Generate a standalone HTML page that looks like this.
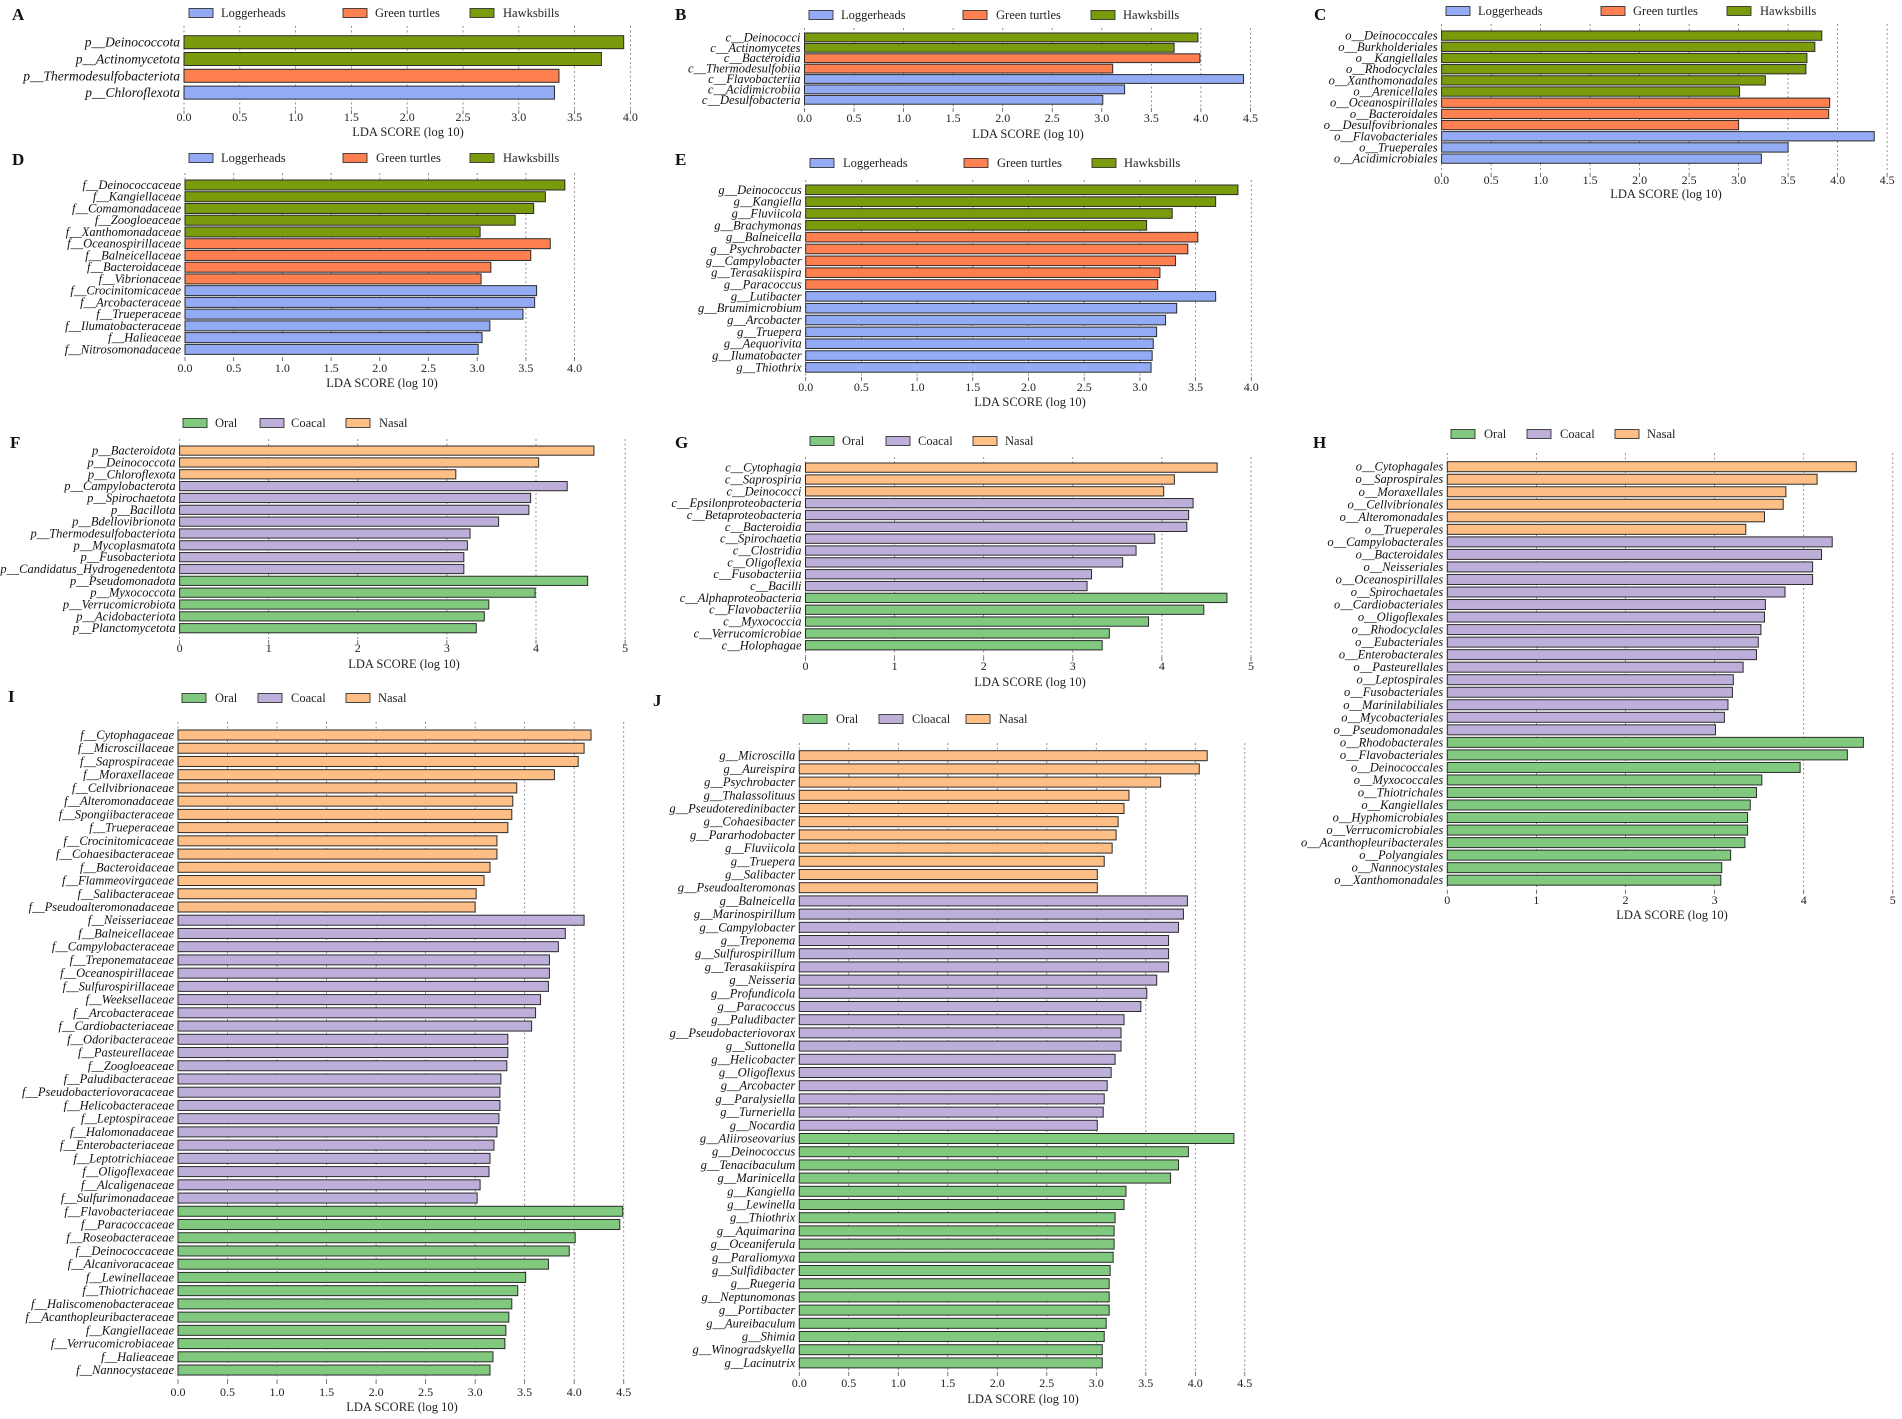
<!DOCTYPE html>
<html><head><meta charset="utf-8"><style>
html,body{margin:0;padding:0;background:#fff;}
svg{display:block;font-family:"Liberation Serif",serif;}
</style></head><body>
<svg id="chart" xmlns="http://www.w3.org/2000/svg" width="1902" height="1419" viewBox="0 0 1902 1419">
<rect x="0" y="0" width="1902" height="1419" fill="#fff"/>
</svg>
<script>
// ---------- data ----------
const catsA = ['p__Deinococcota','p__Actinomycetota','p__Thermodesulfobacteriota','p__Chloroflexota'];
const valsA = [3.94,3.74,3.36,3.32];
const grpA = ['H','H','G','L'];

const catsB = ['c__Deinococci','c__Actinomycetes','c__Bacteroidia','c__Thermodesulfobiia','c__Flavobacteriia','c__Acidimicrobiia','c__Desulfobacteria'];
const valsB = [3.97,3.73,3.99,3.11,4.43,3.23,3.01];
const grpB = ['H','H','G','G','L','L','L'];

const catsC = ['o__Deinococcales','o__Burkholderiales','o__Kangiellales','o__Rhodocyclales','o__Xanthomonadales','o__Arenicellales','o__Oceanospirillales','o__Bacteroidales','o__Desulfovibrionales','o__Flavobacteriales','o__Trueperales','o__Acidimicrobiales'];
const valsC = [3.84,3.77,3.69,3.68,3.27,3.01,3.92,3.91,3.00,4.37,3.50,3.23];
const grpC = ['H','H','H','H','H','H','G','G','G','L','L','L'];

const catsD = ['f__Deinococcaceae','f__Kangiellaceae','f__Comamonadaceae','f__Zoogloeaceae','f__Xanthomonadaceae','f__Oceanospirillaceae','f__Balneicellaceae','f__Bacteroidaceae','f__Vibrionaceae','f__Crocinitomicaceae','f__Arcobacteraceae','f__Trueperaceae','f__Ilumatobacteraceae','f__Halieaceae','f__Nitrosomonadaceae'];
const valsD = [3.90,3.70,3.58,3.39,3.03,3.75,3.55,3.14,3.04,3.61,3.59,3.47,3.13,3.05,3.01];
const grpD = ['H','H','H','H','H','G','G','G','G','L','L','L','L','L','L'];

const catsE = ['g__Deinococcus','g__Kangiella','g__Fluviicola','g__Brachymonas','g__Balneicella','g__Psychrobacter','g__Campylobacter','g__Terasakiispira','g__Paracoccus','g__Lutibacter','g__Brumimicrobium','g__Arcobacter','g__Truepera','g__Aequorivita','g__Ilumatobacter','g__Thiothrix'];
const valsE = [3.88,3.68,3.29,3.06,3.52,3.43,3.32,3.18,3.16,3.68,3.33,3.23,3.15,3.12,3.11,3.10];
const grpE = ['H','H','H','H','G','G','G','G','G','L','L','L','L','L','L','L'];

const catsF = ['p__Bacteroidota','p__Deinococcota','p__Chloroflexota','p__Campylobacterota','p__Spirochaetota','p__Bacillota','p__Bdellovibrionota','p__Thermodesulfobacteriota','p__Mycoplasmatota','p__Fusobacteriota','p__Candidatus_Hydrogenedentota','p__Pseudomonadota','p__Myxococcota','p__Verrucomicrobiota','p__Acidobacteriota','p__Planctomycetota'];
const valsF = [4.65,4.03,3.10,4.35,3.94,3.92,3.58,3.26,3.23,3.19,3.19,4.58,3.99,3.47,3.42,3.33];
const grpF = ['N','N','N','C','C','C','C','C','C','C','C','O','O','O','O','O'];

const catsG = ['c__Cytophagia','c__Saprospiria','c__Deinococci','c__Epsilonproteobacteria','c__Betaproteobacteria','c__Bacteroidia','c__Spirochaetia','c__Clostridia','c__Oligoflexia','c__Fusobacteriia','c__Bacilli','c__Alphaproteobacteria','c__Flavobacteriia','c__Myxococcia','c__Verrucomicrobiae','c__Holophagae'];
const valsG = [4.62,4.14,4.02,4.35,4.30,4.28,3.92,3.71,3.56,3.21,3.16,4.73,4.47,3.85,3.41,3.33];
const grpG = ['N','N','N','C','C','C','C','C','C','C','C','O','O','O','O','O'];

const catsH = ['o__Cytophagales','o__Saprospirales','o__Moraxellales','o__Cellvibrionales','o__Alteromonadales','o__Trueperales','o__Campylobacterales','o__Bacteroidales','o__Neisseriales','o__Oceanospirillales','o__Spirochaetales','o__Cardiobacteriales','o__Oligoflexales','o__Rhodocyclales','o__Eubacteriales','o__Enterobacterales','o__Pasteurellales','o__Leptospirales','o__Fusobacteriales','o__Marinilabiliales','o__Mycobacteriales','o__Pseudomonadales','o__Rhodobacterales','o__Flavobacteriales','o__Deinococcales','o__Myxococcales','o__Thiotrichales','o__Kangiellales','o__Hyphomicrobiales','o__Verrucomicrobiales','o__Acanthopleuribacterales','o__Polyangiales','o__Nannocystales','o__Xanthomonadales'];
const valsH = [4.59,4.15,3.80,3.77,3.56,3.35,4.32,4.20,4.10,4.10,3.79,3.57,3.56,3.52,3.49,3.47,3.32,3.21,3.20,3.15,3.11,3.01,4.67,4.49,3.96,3.53,3.47,3.40,3.37,3.37,3.34,3.18,3.08,3.07];
const grpH = 'NNNNNNCCCCCCCCCCCCCCCCOOOOOOOOOOOO'.split('');

const catsI = ['f__Cytophagaceae','f__Microscillaceae','f__Saprospiraceae','f__Moraxellaceae','f__Cellvibrionaceae','f__Alteromonadaceae','f__Spongiibacteraceae','f__Trueperaceae','f__Crocinitomicaceae','f__Cohaesibacteraceae','f__Bacteroidaceae','f__Flammeovirgaceae','f__Salibacteraceae','f__Pseudoalteromonadaceae','f__Neisseriaceae','f__Balneicellaceae','f__Campylobacteraceae','f__Treponemataceae','f__Oceanospirillaceae','f__Sulfurospirillaceae','f__Weeksellaceae','f__Arcobacteraceae','f__Cardiobacteriaceae','f__Odoribacteraceae','f__Pasteurellaceae','f__Zoogloeaceae','f__Paludibacteraceae','f__Pseudobacteriovoracaceae','f__Helicobacteraceae','f__Leptospiraceae','f__Halomonadaceae','f__Enterobacteriaceae','f__Leptotrichiaceae','f__Oligoflexaceae','f__Alcaligenaceae','f__Sulfurimonadaceae','f__Flavobacteriaceae','f__Paracoccaceae','f__Roseobacteraceae','f__Deinococcaceae','f__Alcanivoracaceae','f__Lewinellaceae','f__Thiotrichaceae','f__Haliscomenobacteraceae','f__Acanthopleuribacteraceae','f__Kangiellaceae','f__Verrucomicrobiaceae','f__Halieaceae','f__Nannocystaceae'];
const valsI = [4.17,4.10,4.04,3.80,3.42,3.38,3.37,3.33,3.22,3.22,3.15,3.09,3.01,3.00,4.10,3.91,3.84,3.75,3.75,3.74,3.66,3.61,3.57,3.33,3.33,3.32,3.26,3.25,3.25,3.24,3.22,3.19,3.15,3.14,3.05,3.02,4.49,4.46,4.01,3.95,3.74,3.51,3.43,3.37,3.34,3.31,3.30,3.18,3.15];
const grpI = 'NNNNNNNNNNNNNNCCCCCCCCCCCCCCCCCCCCCCOOOOOOOOOOOOO'.split('');

const catsJ = ['g__Microscilla','g__Aureispira','g__Psychrobacter','g__Thalassolituus','g__Pseudoteredinibacter','g__Cohaesibacter','g__Pararhodobacter','g__Fluviicola','g__Truepera','g__Salibacter','g__Pseudoalteromonas','g__Balneicella','g__Marinospirillum','g__Campylobacter','g__Treponema','g__Sulfurospirillum','g__Terasakiispira','g__Neisseria','g__Profundicola','g__Paracoccus','g__Paludibacter','g__Pseudobacteriovorax','g__Suttonella','g__Helicobacter','g__Oligoflexus','g__Arcobacter','g__Paralysiella','g__Turneriella','g__Nocardia','g__Aliiroseovarius','g__Deinococcus','g__Tenacibaculum','g__Marinicella','g__Kangiella','g__Lewinella','g__Thiothrix','g__Aquimarina','g__Oceaniferula','g__Paraliomyxa','g__Sulfidibacter','g__Ruegeria','g__Neptunomonas','g__Portibacter','g__Aureibaculum','g__Shimia','g__Winogradskyella','g__Lacinutrix'];
const valsJ = [4.12,4.04,3.65,3.33,3.28,3.22,3.20,3.16,3.08,3.01,3.01,3.92,3.88,3.83,3.73,3.73,3.73,3.61,3.51,3.45,3.28,3.25,3.25,3.19,3.15,3.11,3.08,3.07,3.01,4.39,3.93,3.83,3.75,3.30,3.28,3.19,3.18,3.18,3.17,3.14,3.13,3.13,3.13,3.10,3.08,3.06,3.06];
const grpJ = 'NNNNNNNNNNNCCCCCCCCCCCCCCCCCCOOOOOOOOOOOOOOOOOO'.split('');

const ticks40 = ['0.0','0.5','1.0','1.5','2.0','2.5','3.0','3.5','4.0'];
const ticks45 = ['0.0','0.5','1.0','1.5','2.0','2.5','3.0','3.5','4.0','4.5'];
const ticks5 = ['0','1','2','3','4','5'];

const groupNames = {L:'Loggerheads',G:'Green turtles',H:'Hawksbills',O:'Oral',C:'Coacal',N:'Nasal'};

// ---------- style / layout (not data) ----------
const COLORS = {L:'#93abf4',G:'#fe7f50',H:'#7a9b0c',O:'#80c97f',C:'#bdafd9',N:'#fdbf86'};
const panels = [
 {id:'a',letter:'A',lx:12,ly:20,x0:184,unit:111.6,ticks:ticks40,tstep:0.5,gTop:26,gBot:110,b0:35.7,pitch:16.8,bh:13,tickY:117,titleX:408,titleY:132,legY:13,
  leg:[['L',189,221],['G',343,375],['H',470,503]],cats:catsA,vals:valsA,grp:grpA,fs:13.5},
 {id:'b',letter:'B',lx:675,ly:20,x0:804.5,unit:99.1,ticks:ticks45,tstep:0.5,gTop:28,gBot:108,b0:33,pitch:10.4,bh:8.8,tickY:118,titleX:1028,titleY:134,legY:15,
  leg:[['L',809,841],['G',963,996],['H',1091,1123]],cats:catsB,vals:valsB,grp:grpB,fs:12.5},
 {id:'c',letter:'C',lx:1314,ly:20,x0:1441.6,unit:99.0,ticks:ticks45,tstep:0.5,gTop:24,gBot:173,b0:31,pitch:11.18,bh:9.3,tickY:180,titleX:1666,titleY:194,legY:11,
  leg:[['L',1446,1478],['G',1601,1633],['H',1727,1760]],cats:catsC,vals:valsC,grp:grpC,fs:12.5},
 {id:'d',letter:'D',lx:12,ly:165,x0:185,unit:97.4,ticks:ticks40,tstep:0.5,gTop:173,gBot:357,b0:180,pitch:11.74,bh:10,tickY:368,titleX:382,titleY:383,legY:158,
  leg:[['L',189,221],['G',343,376],['H',470,503]],cats:catsD,vals:valsD,grp:grpD,fs:12.5},
 {id:'e',letter:'E',lx:675,ly:165,x0:805.7,unit:111.4,ticks:ticks40,tstep:0.5,gTop:180,gBot:377,b0:185,pitch:11.84,bh:9.6,tickY:387,titleX:1030,titleY:402,legY:163,
  leg:[['L',810,843],['G',964,997],['H',1092,1124]],cats:catsE,vals:valsE,grp:grpE,fs:12.5},
 {id:'f',letter:'F',lx:10,ly:448,x0:179.6,unit:89.1,ticks:ticks5,tstep:1,gTop:439,gBot:640,b0:446,pitch:11.84,bh:9.2,tickY:648,titleX:404,titleY:664,legY:423,
  leg:[['O',183,215],['C',260,291],['N',346,379]],cats:catsF,vals:valsF,grp:grpF,fs:12.5},
 {id:'g',letter:'G',lx:675,ly:448,x0:805.5,unit:89.1,ticks:ticks5,tstep:1,gTop:457,gBot:657,b0:463,pitch:11.84,bh:9.3,tickY:666,titleX:1030,titleY:682,legY:441,
  leg:[['O',810,842],['C',886,918],['N',973,1005]],cats:catsG,vals:valsG,grp:grpG,fs:12.5},
 {id:'h',letter:'H',lx:1313,ly:448,x0:1447.3,unit:89.1,ticks:ticks5,tstep:1,gTop:453,gBot:890,b0:461.7,pitch:12.53,bh:10,tickY:900,titleX:1672,titleY:915,legY:434,
  leg:[['O',1451,1484],['C',1527,1560],['N',1615,1647]],cats:catsH,vals:valsH,grp:grpH,fs:12.5},
 {id:'i',letter:'I',lx:8,ly:702,x0:178,unit:99.05,ticks:ticks45,tstep:0.5,gTop:722,gBot:1380,b0:730,pitch:13.23,bh:10,tickY:1392,titleX:402,titleY:1407,legY:698,
  leg:[['O',182,215],['C',258,291],['N',346,378]],cats:catsI,vals:valsI,grp:grpI,fs:12.5},
 {id:'j',letter:'J',lx:653,ly:706,x0:799.3,unit:99.0,ticks:ticks45,tstep:0.5,gTop:743,gBot:1372,b0:750.7,pitch:13.2,bh:10,tickY:1383,titleX:1023,titleY:1399,legY:719,
  leg:[['O',803,836],['C',879,912],['N',966,999]],cats:catsJ,vals:valsJ,grp:grpJ,fs:12.5,cloacal:true}
];

const NS = 'http://www.w3.org/2000/svg';
const svg = document.getElementById('chart');
function mk(tag, attrs, parent){
  const e = document.createElementNS(NS, tag);
  for (const k in attrs) e.setAttribute(k, attrs[k]);
  parent.appendChild(e);
  return e;
}

panels.forEach(p => {
  const g = mk('g', {}, svg);
  
  
  const xs = v => p.x0 + v * p.unit;
  const yb = i => p.b0 + i * p.pitch;

  const letter = mk('text', {x:p.lx, y:p.ly, 'font-size':17, 'font-weight':'bold', fill:'#111'}, g);
  letter.textContent = p.letter;
  
  

  p.leg.forEach(l => {
    const lg = mk('g', {}, g);
    
    
    mk('rect', {x:l[1], y:p.legY-4.5, width:24, height:9, fill:COLORS[l[0]], stroke:'#333', 'stroke-width':0.9}, lg);
    const t = mk('text', {x:l[2], y:p.legY, 'font-size':12.5, 'dominant-baseline':'central', fill:'#222'}, lg);
    t.textContent = (l[0]==='C' && p.cloacal) ? 'Cloacal' : groupNames[l[0]];
  });

  p.ticks.forEach((lab, k) => {
    const x = xs(k * p.tstep);
    const gl = mk('line', {x1:x, x2:x, y1:p.gTop, y2:p.gBot, stroke:'#777', 'stroke-width':0.8, 'stroke-dasharray':'2,2.5'}, g);
    
    
    mk('line', {x1:x, x2:x, y1:p.gBot, y2:p.gBot+4, stroke:'#555', 'stroke-width':0.8}, g);
    const t = mk('text', {x:x, y:p.tickY, 'font-size':12, 'text-anchor':'middle', 'dominant-baseline':'central', fill:'#222'}, g);
    t.textContent = lab;
    
    
  });

  p.cats.forEach((c, i) => {
    const y = yb(i);
    const r = mk('rect', {x:xs(0), y:y, width:xs(p.vals[i]) - xs(0), height:p.bh, fill:COLORS[p.grp[i]], stroke:'#2a2a2a', 'stroke-width':1}, g);
    
    
    const t = mk('text', {x:p.x0 - 4, y:y + p.bh/2, 'font-size':p.fs, 'font-style':'italic', 'text-anchor':'end', 'dominant-baseline':'central', fill:'#111'}, g);
    t.textContent = c;
    
    
  });

  const tt = mk('text', {x:p.titleX, y:p.titleY, 'font-size':12.5, 'text-anchor':'middle', 'dominant-baseline':'central', fill:'#222'}, g);
  tt.textContent = 'LDA SCORE (log 10)';
  
  
});
</script>
</body></html>
